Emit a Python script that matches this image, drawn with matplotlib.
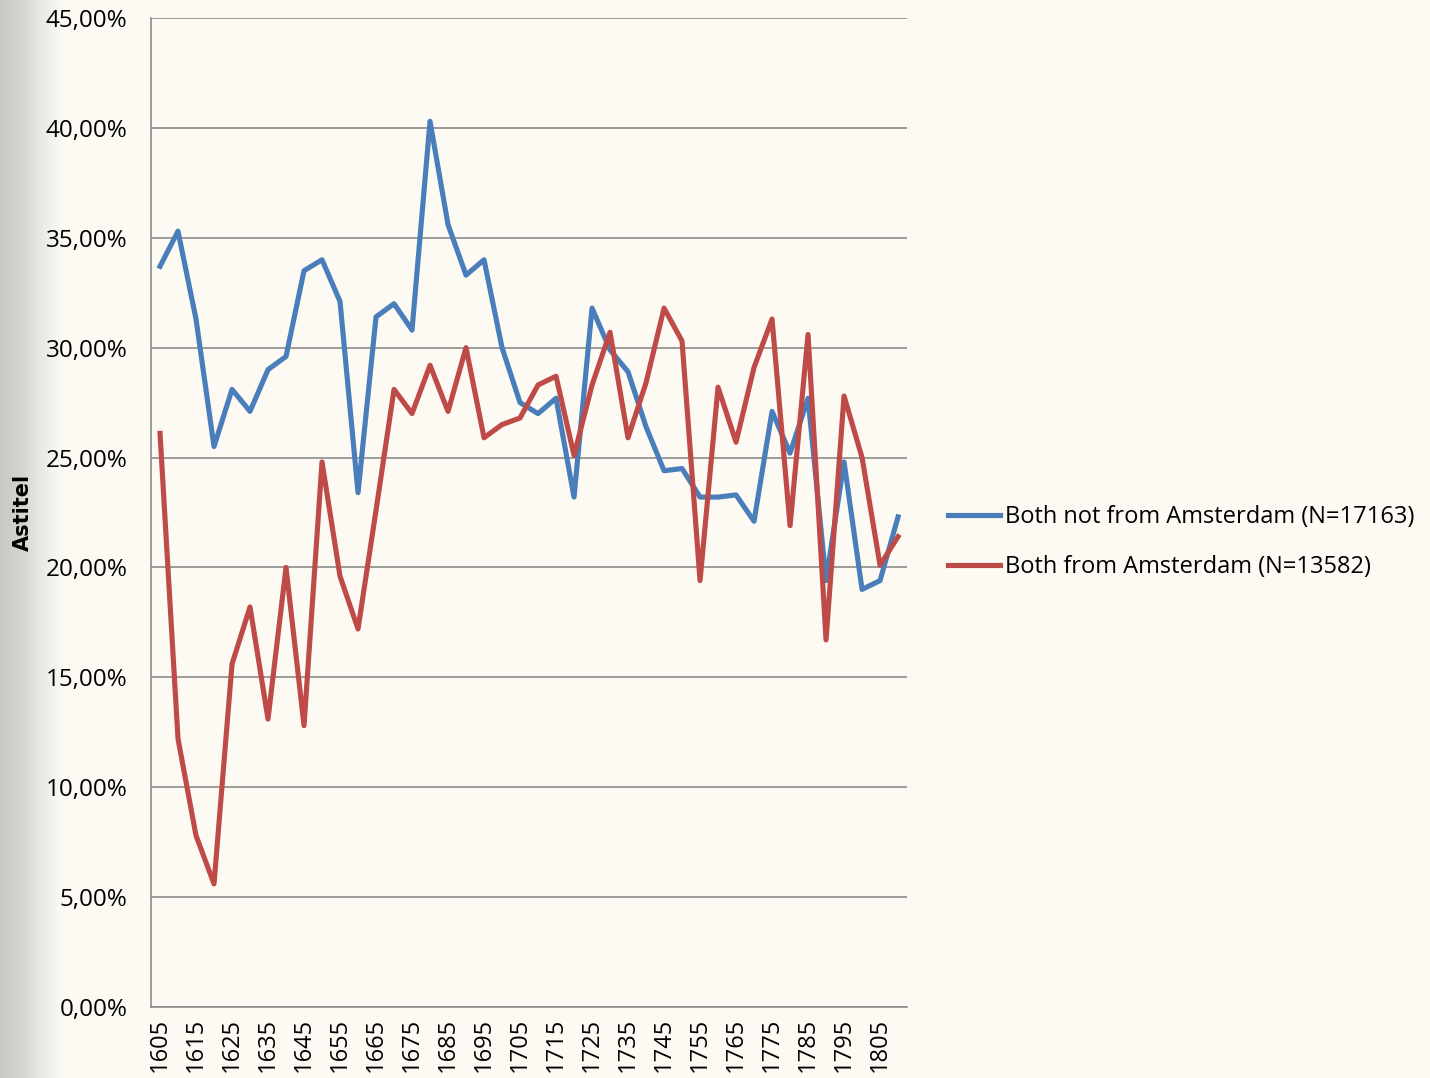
import numpy as np
import matplotlib
matplotlib.use("Agg")
import matplotlib.pyplot as plt
from matplotlib.ticker import FuncFormatter

# Data (share per 5-year period, in %)
years = list(range(1605, 1811, 5))
not_amsterdam = [33.7, 35.3, 31.3, 25.5, 28.1, 27.1, 29.0, 29.6, 33.5, 34.0,
                 32.1, 23.4, 31.4, 32.0, 30.8, 40.3, 35.6, 33.3, 34.0, 30.0,
                 27.5, 27.0, 27.7, 23.2, 31.8, 29.9, 28.9, 26.4, 24.4, 24.5,
                 23.2, 23.2, 23.3, 22.1, 27.1, 25.2, 27.7, 19.4, 24.8, 19.0,
                 19.4, 22.3]
from_amsterdam = [26.1, 12.2, 7.8, 5.6, 15.6, 18.2, 13.1, 20.0, 12.8, 24.8,
                  19.6, 17.2, 22.6, 28.1, 27.0, 29.2, 27.1, 30.0, 25.9, 26.5,
                  26.8, 28.3, 28.7, 25.1, 28.3, 30.7, 25.9, 28.4, 31.8, 30.3,
                  19.4, 28.2, 25.7, 29.1, 31.3, 21.9, 30.6, 16.7, 27.8, 25.0,
                  20.1, 21.4]
labels = ["Both not from Amsterdam (N=17163)", "Both from Amsterdam (N=13582)"]

bg = "#FCFAF3"
font = "Open Sans"
fig = plt.figure(figsize=(14.3, 10.78), dpi=100, facecolor=bg)

# faded grey strip on the left edge
strip = fig.add_axes([0, 0, 0.045, 1])
grad = np.linspace(0.0, 1.0, 50)[None, :] ** 1.5
strip.imshow(np.repeat(grad, 10, axis=0), cmap="Greys_r", vmin=-0.6, vmax=1.05,
             aspect="auto", alpha=0.35)
strip.axis("off")

ax = fig.add_axes([0.1056, 0.0659, 0.5287, 0.9174])
ax.set_facecolor("none")
ax.plot(years, not_amsterdam, color="#4A7EBB", lw=3.7, label=labels[0])
ax.plot(years, from_amsterdam, color="#BE4B48", lw=3.7, label=labels[1])

ax.set_xlim(1602.5, 1812.5)
ax.set_ylim(0, 45)
ax.set_yticks(np.arange(0, 46, 5))
ax.yaxis.set_major_formatter(FuncFormatter(lambda v, p: f"{v:.2f}%".replace(".", ",")))
ax.set_xticks(range(1605, 1806, 10))
ax.tick_params(axis="x", rotation=90, length=0, labelsize=17, pad=8)
ax.tick_params(axis="y", length=0, labelsize=17.5, pad=17)
for lab in ax.get_xticklabels() + ax.get_yticklabels():
    lab.set_fontfamily(font)
ax.grid(axis="y", color="#8C8C8C", lw=1.2)
ax.set_axisbelow(True)
for s in ["top", "right"]:
    ax.spines[s].set_visible(False)
for s in ["left", "bottom"]:
    ax.spines[s].set_color("#8C8C8C")
    ax.spines[s].set_linewidth(1.2)

ax.set_ylabel("Astitel", fontsize=15, fontweight="bold",
              family=["Liberation Sans Narrow", "DejaVu Sans Condensed", "DejaVu Sans"],
              labelpad=9)

leg = ax.legend(loc="center left", bbox_to_anchor=(1.054, 0.47), frameon=False,
                prop={"family": font, "size": 17}, handlelength=2.2,
                handletextpad=0.2, labelspacing=1.1, borderpad=0, borderaxespad=0)

plt.savefig("out.png", dpi=100, facecolor=bg)
plt.close()
